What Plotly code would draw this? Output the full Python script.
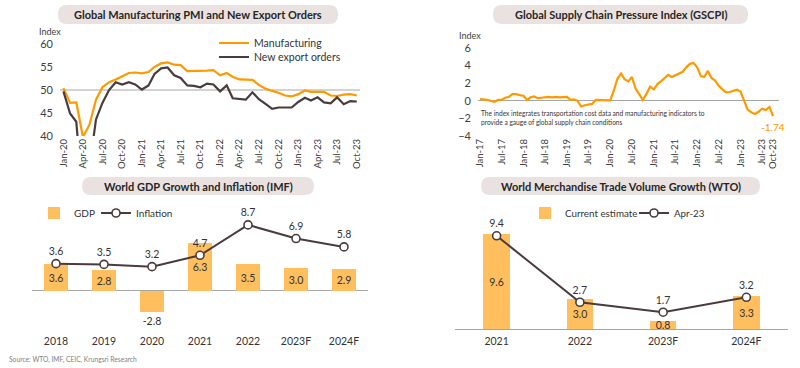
import pandas as pd
import plotly.graph_objects as go

W, H = 800, 368
FONT = "Lato"
ORANGE = "#FF9900"
BAR = "#FFBF5E"
DARK = "#4A3C3D"
GRAY = "#A6A6A6"
TXT = "#404040"

# ---------------- data ----------------
pmi_months = pd.date_range("2020-01-01", "2023-10-01", freq="MS")
pmi_manufacturing = [50.4, 47.2, 47.3, 39.8, 42.4, 47.9, 50.6, 51.7, 52.3, 53.0, 53.7, 53.8,
                     53.6, 53.9, 55.0, 55.8, 56.0, 55.5, 55.4, 54.1, 54.1, 54.2, 54.2, 54.3,
                     53.2, 53.7, 52.9, 52.3, 52.3, 52.2, 51.1, 50.3, 49.8, 49.4, 48.8, 48.6,
                     49.1, 49.9, 49.6, 49.6, 49.6, 48.8, 48.7, 49.0, 49.1, 48.8]
pmi_new_export = [49.7, 44.9, 43.1, 26.0, 33.0, 43.6, 47.2, 50.0, 51.7, 51.2, 51.7, 51.2,
                  50.1, 51.0, 53.5, 54.7, 54.9, 53.2, 52.6, 51.0, 50.9, 50.6, 51.4, 51.2,
                  49.7, 51.0, 48.2, 48.1, 47.9, 49.5, 48.0, 47.0, 45.9, 46.2, 46.2, 46.2,
                  47.4, 48.3, 47.7, 48.4, 47.3, 47.1, 48.4, 46.9, 47.6, 47.5]

gscpi_months = pd.date_range("2017-01-01", "2023-10-01", freq="MS")
gscpi = [0.19, 0.18, 0.10, 0.00, -0.12, 0.10, 0.10, 0.35, 0.45, 0.75, 0.75, 0.65,
         0.57, 0.10, 0.40, 0.50, 0.30, 0.35, 0.40, 0.45, 0.40, 0.45, 0.40, 0.40,
         0.45, 0.10, 0.15, 0.00, -0.65, -0.50, -0.45, -0.35, 0.10, 0.10, 0.12, 0.05,
         0.05, 1.20, 2.50, 3.10, 2.45, 2.20, 2.70, 1.40, 0.70, 0.10, 0.80, 1.60,
         1.30, 1.90, 2.20, 2.60, 2.95, 2.70, 2.90, 3.10, 3.30, 3.80, 4.20, 4.30,
         3.80, 2.80, 2.70, 3.40, 2.60, 2.30, 1.70, 1.30, 0.95, 1.00, 1.10, 1.25,
         1.05, -0.10, -1.00, -1.30, -1.50, -1.25, -0.90, -1.05, -0.70, -1.74]
gscpi_ticks = ["2017-01-01", "2017-07-01", "2018-01-01", "2018-07-01", "2019-01-01",
               "2019-07-01", "2020-01-01", "2020-07-01", "2021-01-01", "2021-07-01",
               "2022-01-01", "2022-07-01", "2023-01-01", "2023-07-01", "2023-10-01"]

gdp_years = ["2018", "2019", "2020", "2021", "2022", "2023F", "2024F"]
gdp_growth = [3.6, 2.8, -2.8, 6.3, 3.5, 3.0, 2.9]
inflation = [3.6, 3.5, 3.2, 4.7, 8.7, 6.9, 5.8]

trade_years = ["2021", "2022", "2023F", "2024F"]
trade_current = [9.6, 3.0, 0.8, 3.3]
trade_apr23 = [9.4, 2.7, 1.7, 3.2]

# ---------------- helpers ----------------
def X(p):
    return p / W

def Y(p):
    return 1 - p / H

def dom_x(a, b):
    return [X(a), X(b)]

def dom_y(top, bottom):
    return [Y(bottom), Y(top)]

def pill(x0, y0, x1, y1, r=9):
    return ("M {a},{b} L {c},{b} Q {d},{b} {d},{e} L {d},{f} Q {d},{g} {c},{g} "
            "L {a},{g} Q {h},{g} {h},{f} L {h},{e} Q {h},{b} {a},{b} Z").format(
        a=X(x0 + r), b=Y(y0), c=X(x1 - r), d=X(x1), e=Y(y0 + r), f=Y(y1 - r),
        g=Y(y1), h=X(x0))

def leg(x_text, y_center, size=10.5):
    # legend text begins ~40px right of the legend's left edge
    return dict(x=X(x_text - 40), y=Y(y_center), xanchor="left", yanchor="middle",
                orientation="v", bgcolor="rgba(0,0,0,0)",
                font=dict(family=FONT, size=size, color="#333333"),
                itemwidth=30, borderwidth=0)

fig = go.Figure()

# ---- panel 1 ----
fig.add_trace(go.Scatter(x=pmi_months, y=pmi_manufacturing, mode="lines", name="Manufacturing",
                         line=dict(color=ORANGE, width=2.2), xaxis="x", yaxis="y", legend="legend"))
fig.add_trace(go.Scatter(x=pmi_months, y=pmi_new_export, mode="lines", name="New export orders",
                         line=dict(color=DARK, width=2.2), xaxis="x", yaxis="y", legend="legend2"))

# ---- panel 2 ----
fig.add_trace(go.Scatter(x=gscpi_months, y=gscpi, mode="lines", name="GSCPI", showlegend=False,
                         line=dict(color=ORANGE, width=2.2), xaxis="x2", yaxis="y2"))

# ---- panel 3 ----
fig.add_trace(go.Bar(x=gdp_years, y=gdp_growth, name="GDP", marker=dict(color=BAR, line=dict(width=0)),
                     width=0.5, text=[f"{v:.1f}" for v in gdp_growth],
                     textposition=["inside" if v > 0 else "outside" for v in gdp_growth],
                     insidetextanchor="middle", constraintext="none", cliponaxis=False,
                     textfont=dict(size=10.5, color="#333333", family=FONT),
                     xaxis="x3", yaxis="y3", legend="legend3"))
fig.add_trace(go.Scatter(x=gdp_years, y=inflation, name="Inflation", mode="lines+markers+text",
                         line=dict(color=DARK, width=2),
                         marker=dict(size=8, color="white", line=dict(color=DARK, width=1.6)),
                         text=[f"{v:.1f}" for v in inflation], textposition="top center",
                         textfont=dict(size=10.5, color="#333333", family=FONT), cliponaxis=False,
                         xaxis="x3", yaxis="y3", legend="legend4"))

# ---- panel 4 ----
fig.add_trace(go.Bar(x=trade_years, y=trade_current, name="Current estimate",
                     marker=dict(color=BAR, line=dict(width=0)), width=0.32,
                     text=[f"{v:.1f}" for v in trade_current], textposition="inside",
                     insidetextanchor="middle", constraintext="none", cliponaxis=False,
                     textfont=dict(size=10.5, color="#333333", family=FONT),
                     xaxis="x4", yaxis="y4", legend="legend5"))
fig.add_trace(go.Scatter(x=trade_years, y=trade_apr23, name="Apr-23", mode="lines+markers+text",
                         line=dict(color=DARK, width=2),
                         marker=dict(size=8, color="white", line=dict(color=DARK, width=1.6)),
                         text=[f"{v:.1f}" for v in trade_apr23], textposition="top center",
                         textfont=dict(size=10.5, color="#333333", family=FONT), cliponaxis=False,
                         xaxis="x4", yaxis="y4", legend="legend6"))

fig.update_layout(
    width=W, height=H, margin=dict(l=0, r=0, t=0, b=0, autoexpand=False),
    paper_bgcolor="white", plot_bgcolor="rgba(0,0,0,0)",
    font=dict(family=FONT, color=TXT), bargap=0,
    xaxis=dict(domain=dom_x(60, 360), anchor="y", type="date", automargin=False,
               range=["2019-12-16", "2023-10-16"], tick0="2020-01-01", dtick="M3",
               tickformat="%b-%y", tickangle=-90, tickfont=dict(family=FONT, size=9.5, color=TXT),
               showgrid=False, zeroline=False, showline=False, ticks=""),
    yaxis=dict(domain=dom_y(44, 136), anchor="x", range=[40, 60], dtick=5, automargin=False,
               tickfont=dict(family=FONT, size=11, color=TXT), showgrid=False, zeroline=False,
               ticks="", ticklabelstandoff=6),
    xaxis2=dict(domain=dom_x(478, 779), anchor="y2", type="date", automargin=False,
                range=["2016-12-15", "2023-11-20"], tickvals=gscpi_ticks,
                tickformat="%b-%y", tickangle=-90, tickfont=dict(family=FONT, size=9.5, color=TXT),
                showgrid=False, zeroline=False, showline=False, ticks=""),
    yaxis2=dict(domain=dom_y(48, 136), anchor="x2", range=[-4, 6], dtick=2, automargin=False,
                tickfont=dict(family=FONT, size=11, color=TXT), showgrid=False,
                zeroline=True, zerolinecolor=GRAY, zerolinewidth=1, ticks="", ticklabelstandoff=6),
    xaxis3=dict(domain=dom_x(32, 368), anchor="y3", type="category", automargin=False,
                tickfont=dict(family=FONT, size=10.5, color="#333333"),
                showgrid=False, zeroline=False, showline=False, ticks=""),
    yaxis3=dict(domain=dom_y(215, 333), anchor="x3", range=[-5.53, 10], automargin=False,
                showticklabels=False, showgrid=False, zeroline=True, zerolinecolor=GRAY,
                zerolinewidth=1, ticks=""),
    xaxis4=dict(domain=dom_x(455, 788), anchor="y4", type="category", automargin=False,
                tickfont=dict(family=FONT, size=10.5, color="#333333"),
                showgrid=False, zeroline=False, showline=False, ticks=""),
    yaxis4=dict(domain=dom_y(215, 333), anchor="x4", range=[-0.4, 11.5], automargin=False,
                showticklabels=False, showgrid=False, zeroline=True, zerolinecolor=GRAY,
                zerolinewidth=1, ticks=""),
    legend=leg(254, 43),
    legend2=leg(254, 57),
    legend3=leg(74, 213, 10),
    legend4=leg(136, 213, 10),
    legend5=leg(565, 213, 9.8),
    legend6=leg(674, 213, 9.8),
)

# reference line at 50 in panel 1
fig.add_shape(type="line", xref="x domain", yref="y", x0=0, x1=1, y0=50, y1=50,
              line=dict(color=GRAY, width=1), layer="below")

# title pills
pills = [
    (58, 5, 338, 24, "Global Manufacturing PMI and New Export Orders"),
    (493, 5, 748, 24, "Global Supply Chain Pressure Index (GSCPI)"),
    (82, 177, 314, 195, "World GDP Growth and Inflation (IMF)"),
    (481, 177, 760, 195, "World Merchandise Trade Volume Growth (WTO)"),
]
for x0, y0, x1, y1, t in pills:
    fig.add_shape(type="path", xref="paper", yref="paper", path=pill(x0, y0, x1, y1),
                  fillcolor="#EAE2E1", line=dict(width=0), layer="below")
    fig.add_annotation(x=X((x0 + x1) / 2), y=Y((y0 + y1) / 2), xref="paper", yref="paper",
                       text=f"<b>{t}</b>", showarrow=False, xanchor="center", yanchor="middle",
                       font=dict(family=FONT, size=11, color="#262626"))

# axis unit labels
fig.add_annotation(x=X(37), y=Y(32), xref="paper", yref="paper", text="Index", showarrow=False,
                   xanchor="left", yanchor="middle", font=dict(family=FONT, size=9, color=TXT))
fig.add_annotation(x=X(457), y=Y(35), xref="paper", yref="paper", text="Index", showarrow=False,
                   xanchor="left", yanchor="middle", font=dict(family=FONT, size=9, color=TXT))

# GSCPI note & last value
fig.add_annotation(x=X(479), y=Y(117.5), xref="paper", yref="paper",
                   text="The index integrates transportation cost data and manufacturing indicators to<br>"
                        "provide a gauge of global supply chain conditions",
                   showarrow=False, xanchor="left", yanchor="middle", align="left",
                   font=dict(family=FONT, size=6.6, color="#333333"))
fig.add_annotation(x=gscpi_months[-1], y=gscpi[-1], xref="x2", yref="y2",
                   text=f"{gscpi[-1]:.2f}", showarrow=False, yshift=-11, xanchor="center",
                   font=dict(family=FONT, size=10, color=ORANGE))

# source
fig.add_annotation(x=X(7), y=Y(359), xref="paper", yref="paper",
                   text="Source: WTO, IMF, CEIC, Krungsri Research", showarrow=False,
                   xanchor="left", yanchor="middle", font=dict(family=FONT, size=6.7, color="#808080"))

fig.write_html("out.html", config={"displayModeBar": False},
               post_script="document.body.style.margin='0';document.body.style.overflow='hidden';")
